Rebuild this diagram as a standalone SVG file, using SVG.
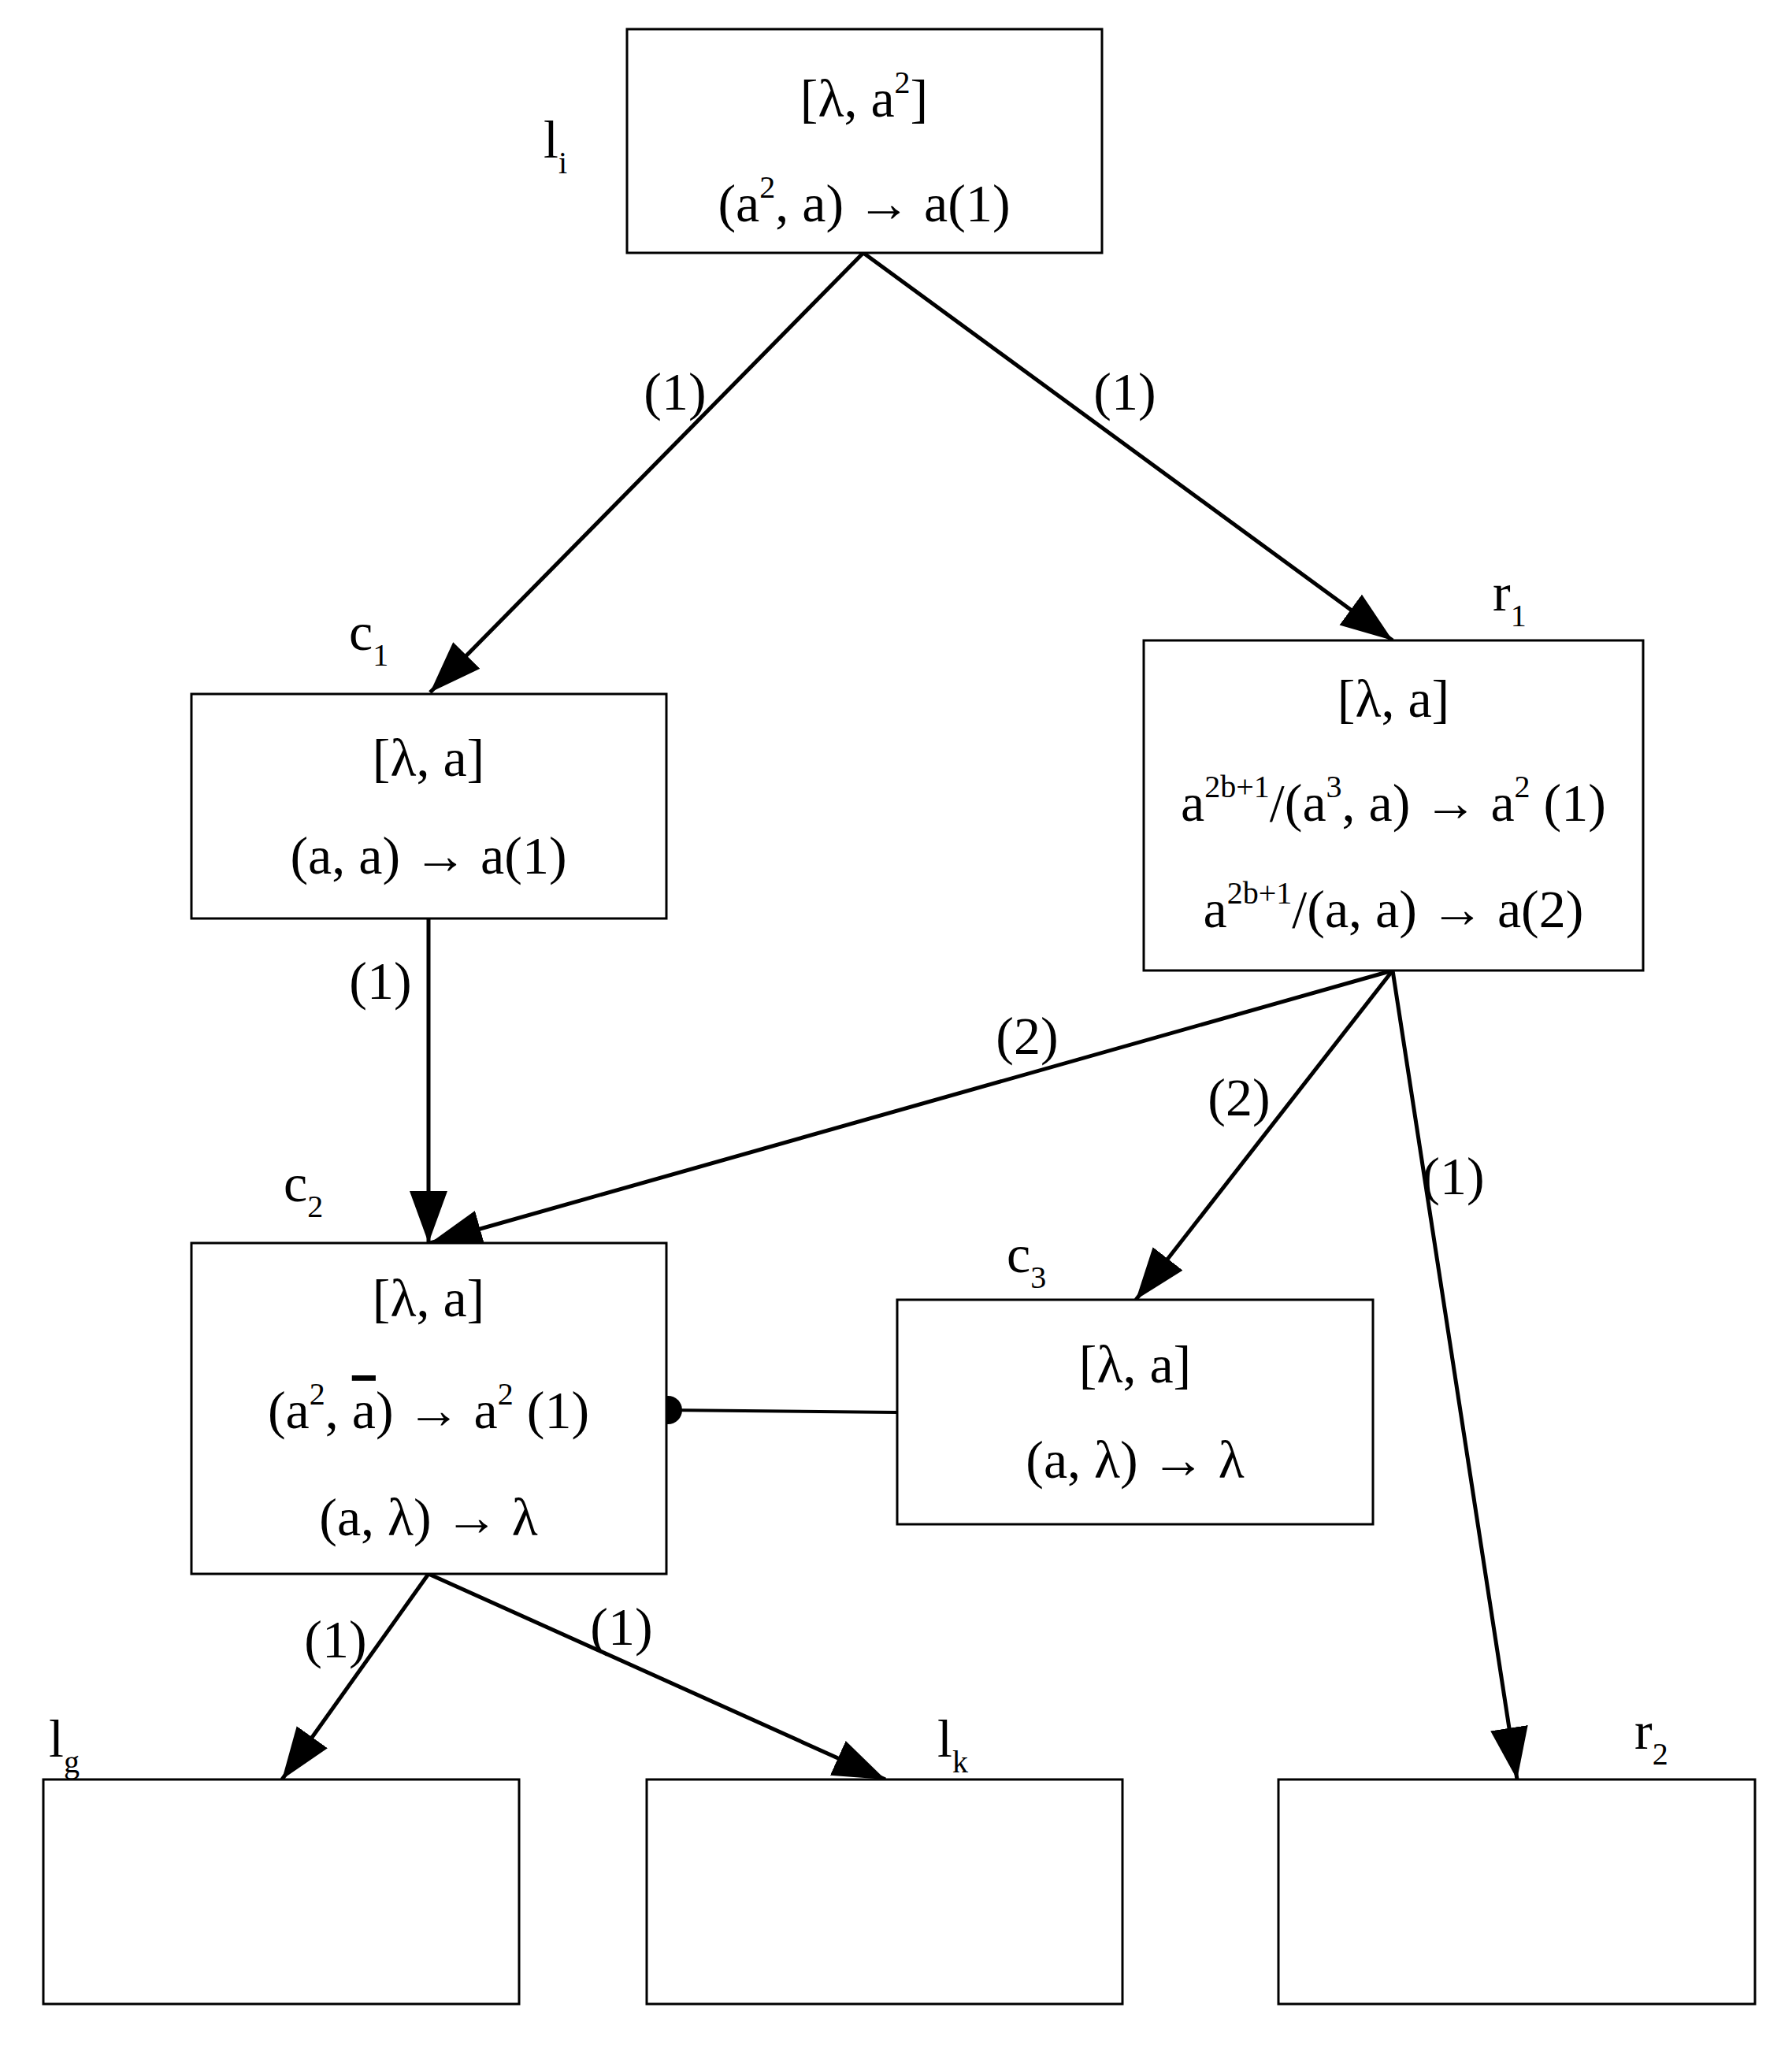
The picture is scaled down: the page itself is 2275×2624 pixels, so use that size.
<svg xmlns="http://www.w3.org/2000/svg" width="2275" height="2624" viewBox="0 0 2275 2624">
<style>
.box{fill:#fff;stroke:#000;stroke-width:3}
.e{stroke:#000;stroke-width:5;fill:none;marker-end:url(#ah)}
text{font-family:"Liberation Serif",serif;font-size:68px;fill:#000}
.c{text-anchor:middle}
.s{font-size:40px}
</style>
<defs>
<marker id="ah" markerUnits="userSpaceOnUse" markerWidth="70" markerHeight="50" refX="66" refY="24" orient="auto">
<path d="M0,0 L66,24 L0,48 Z" fill="#000"/>
</marker>
</defs>
<rect width="2275" height="2624" fill="#fff"/>
<g id="connectors">
<line class="e" x1="1096" y1="321" x2="546" y2="879"/>
<line class="e" x1="1096" y1="321" x2="1768" y2="813"/>
<line class="e" x1="544" y1="1166" x2="544" y2="1578"/>
<line class="e" x1="1768" y1="1232" x2="546" y2="1578"/>
<line class="e" x1="1768" y1="1232" x2="1442" y2="1650"/>
<line class="e" x1="1768" y1="1232" x2="1926" y2="2259"/>
<line class="e" x1="544" y1="1998" x2="358" y2="2259"/>
<line class="e" x1="544" y1="1998" x2="1124" y2="2259"/>
<line x1="846" y1="1790" x2="1139" y2="1793" stroke="#000" stroke-width="4"/>
<circle cx="848" cy="1790" r="18" fill="#000"/>
<text class="c" x="857" y="520">(1)</text>
<text class="c" x="1428" y="520">(1)</text>
<text class="c" x="483" y="1268">(1)</text>
<text class="c" x="1304" y="1338">(2)</text>
<text class="c" x="1573" y="1416">(2)</text>
<text class="c" x="1845" y="1516">(1)</text>
<text class="c" x="426" y="2104">(1)</text>
<text class="c" x="789" y="2088">(1)</text>
</g>
<g id="li">
<rect class="box" x="796" y="37" width="603" height="284"/>
<text class="c" x="1097" y="148">[λ, a<tspan class="s" dy="-30">2</tspan><tspan dy="30">]</tspan></text>
<text class="c" x="1097" y="281">(a<tspan class="s" dy="-30">2</tspan><tspan dy="30">, a) → a(1)</tspan></text>
<text x="690" y="200">l<tspan class="s" dy="20">i</tspan></text>
</g>
<g id="c1">
<rect class="box" x="243" y="881" width="603" height="285"/>
<text class="c" x="544" y="985">[λ, a]</text>
<text class="c" x="544" y="1109">(a, a) → a(1)</text>
<text x="443" y="825">c<tspan class="s" dy="20">1</tspan></text>
</g>
<g id="r1">
<rect class="box" x="1452" y="813" width="634" height="419"/>
<text class="c" x="1769" y="910">[λ, a]</text>
<text class="c" x="1769" y="1042">a<tspan class="s" dy="-30">2b+1</tspan><tspan dy="30">/(a</tspan><tspan class="s" dy="-30">3</tspan><tspan dy="30">, a) → a</tspan><tspan class="s" dy="-30">2</tspan><tspan dy="30"> (1)</tspan></text>
<text class="c" x="1769" y="1177">a<tspan class="s" dy="-30">2b+1</tspan><tspan dy="30">/(a, a) → a(2)</tspan></text>
<text x="1895" y="775">r<tspan class="s" dy="20">1</tspan></text>
</g>
<g id="c2">
<rect class="box" x="243" y="1578" width="603" height="420"/>
<text class="c" x="544" y="1671">[λ, a]</text>
<text class="c" x="544" y="1813">(a<tspan class="s" dy="-30">2</tspan><tspan dy="30">, </tspan><tspan text-decoration="overline">a</tspan>) → a<tspan class="s" dy="-30">2</tspan><tspan dy="30"> (1)</tspan></text>
<text class="c" x="544" y="1949">(a, λ) → λ</text>
<text x="360" y="1525">c<tspan class="s" dy="20">2</tspan></text>
</g>
<g id="c3">
<rect class="box" x="1139" y="1650" width="604" height="285"/>
<text class="c" x="1441" y="1755">[λ, a]</text>
<text class="c" x="1441" y="1876">(a, λ) → λ</text>
<text x="1278" y="1615">c<tspan class="s" dy="20">3</tspan></text>
</g>
<g id="lg">
<rect class="box" x="55" y="2259" width="604" height="285"/>
<text x="62" y="2230">l<tspan class="s" dy="20">g</tspan></text>
</g>
<g id="lk">
<rect class="box" x="821" y="2259" width="604" height="285"/>
<text x="1190" y="2230">l<tspan class="s" dy="20">k</tspan></text>
</g>
<g id="r2">
<rect class="box" x="1623" y="2259" width="605" height="285"/>
<text x="2075" y="2220">r<tspan class="s" dy="20">2</tspan></text>
</g>
</svg>
